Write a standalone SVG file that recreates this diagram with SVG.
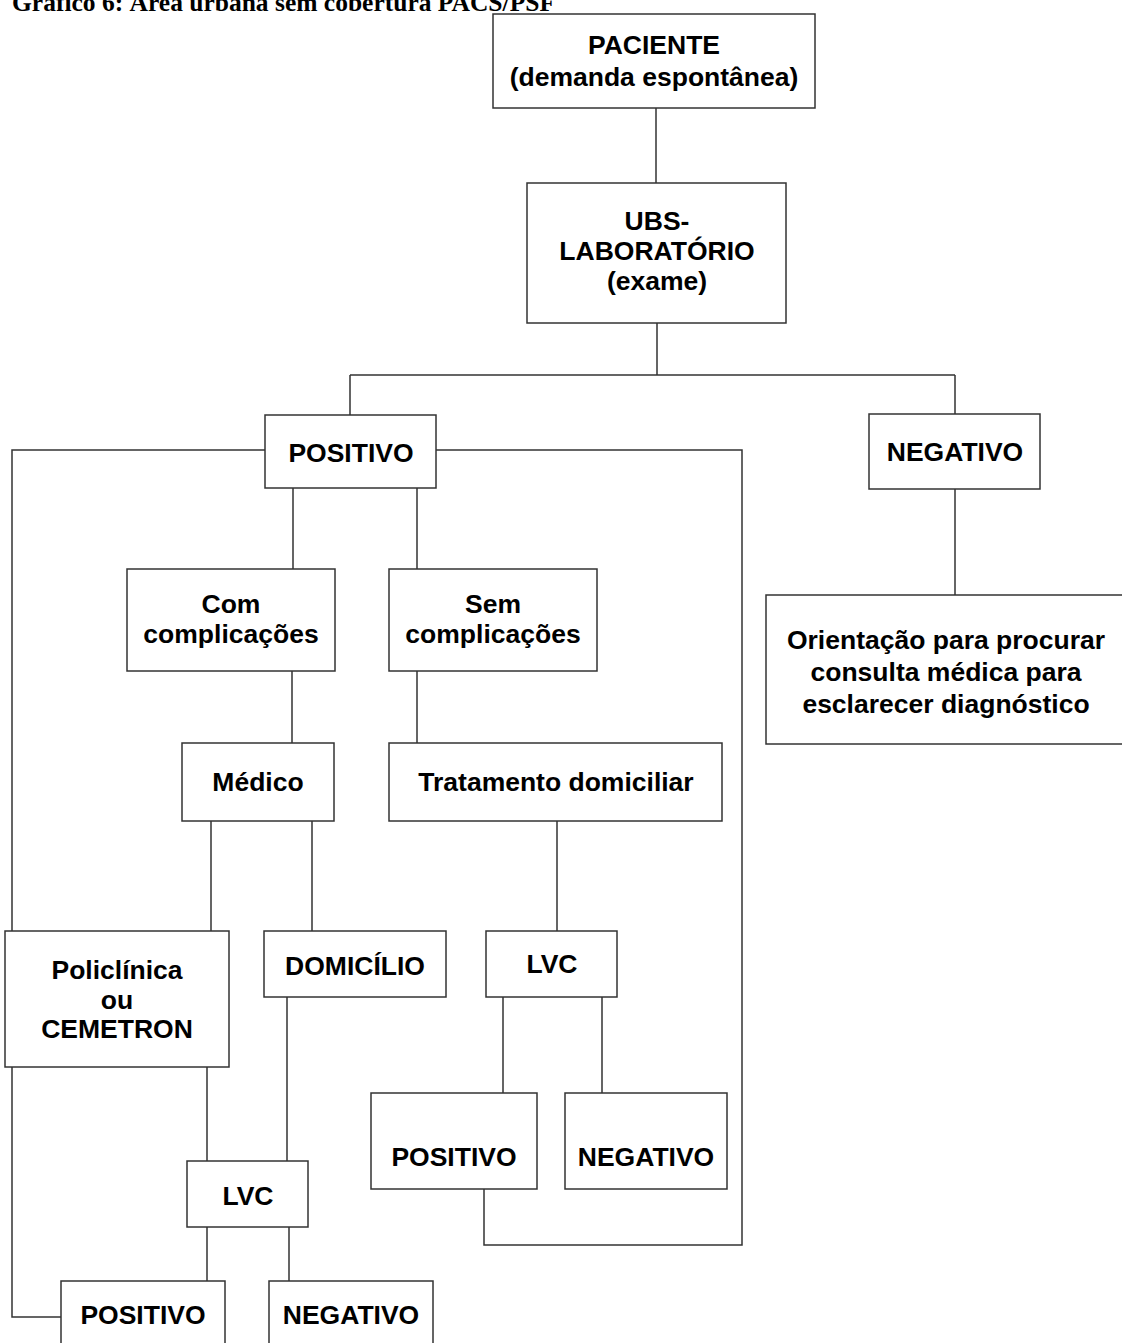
<svg xmlns="http://www.w3.org/2000/svg" width="1122" height="1343" viewBox="0 0 1122 1343">
<style>
.box{fill:#fff;stroke:#333;stroke-width:1.5}
.t{font-family:"Liberation Sans",Arial,sans-serif;font-weight:bold;font-size:26.5px;fill:#000;text-anchor:middle}
.c{fill:none;stroke:#333;stroke-width:1.5}
.title{font-family:"Liberation Serif","Times New Roman",serif;font-weight:bold;font-size:25.5px;fill:#000}
</style>
<rect width="1122" height="1343" fill="#fff"/>
<text class="title" x="12" y="11">Gráfico 6: Área urbana sem cobertura PACS/PSF</text>
<g id="connectors">
<path class="c" d="M656 108V183"/>
<path class="c" d="M657 323V375M350 375H955M350 375V415M955 375V414"/>
<path class="c" d="M955 489V595"/>
<path class="c" d="M265 450H12V1317H73"/>
<path class="c" d="M436 450H742V1245H484V1189"/>
<path class="c" d="M293 488V569M417 488V569"/>
<path class="c" d="M292 671V743M417 671V743"/>
<path class="c" d="M211 821V931M312 821V931M557 821V931"/>
<path class="c" d="M207 1067V1161M287 997V1161"/>
<path class="c" d="M207 1227V1281M289 1227V1281"/>
<path class="c" d="M503 997V1093M602 997V1093"/>
</g>
<g id="paciente"><rect class="box" x="493" y="14" width="322" height="94"/><text class="t" x="654" y="54">PACIENTE</text><text class="t" x="654" y="86">(demanda espontânea)</text></g>
<g id="ubs"><rect class="box" x="527" y="183" width="259" height="140"/><text class="t" x="657" y="230">UBS-</text><text class="t" x="657" y="260">LABORATÓRIO</text><text class="t" x="657" y="290">(exame)</text></g>
<g id="positivo1"><rect class="box" x="265" y="415" width="171" height="73"/><text class="t" x="351" y="462">POSITIVO</text></g>
<g id="negativo1"><rect class="box" x="869" y="414" width="171" height="75"/><text class="t" x="955" y="461">NEGATIVO</text></g>
<g id="orientacao"><rect class="box" x="766" y="595" width="362" height="149"/><text class="t" x="946" y="649">Orientação para procurar</text><text class="t" x="946" y="681">consulta médica para</text><text class="t" x="946" y="713">esclarecer diagnóstico</text></g>
<g id="com"><rect class="box" x="127" y="569" width="208" height="102"/><text class="t" x="231" y="613">Com</text><text class="t" x="231" y="643">complicações</text></g>
<g id="sem"><rect class="box" x="389" y="569" width="208" height="102"/><text class="t" x="493" y="613">Sem</text><text class="t" x="493" y="643">complicações</text></g>
<g id="medico"><rect class="box" x="182" y="743" width="152" height="78"/><text class="t" x="258" y="791">Médico</text></g>
<g id="tratamento"><rect class="box" x="389" y="743" width="333" height="78"/><text class="t" x="556" y="791">Tratamento domiciliar</text></g>
<g id="policlinica"><rect class="box" x="5" y="931" width="224" height="136"/><text class="t" x="117" y="979">Policlínica</text><text class="t" x="117" y="1009">ou</text><text class="t" x="117" y="1038">CEMETRON</text></g>
<g id="domicilio"><rect class="box" x="264" y="931" width="182" height="66"/><text class="t" x="355" y="975">DOMICÍLIO</text></g>
<g id="lvc1"><rect class="box" x="486" y="931" width="131" height="66"/><text class="t" x="552" y="973">LVC</text></g>
<g id="positivo2"><rect class="box" x="371" y="1093" width="166" height="96"/><text class="t" x="454" y="1166">POSITIVO</text></g>
<g id="negativo2"><rect class="box" x="565" y="1093" width="162" height="96"/><text class="t" x="646" y="1166">NEGATIVO</text></g>
<g id="lvc2"><rect class="box" x="187" y="1161" width="121" height="66"/><text class="t" x="248" y="1205">LVC</text></g>
<g id="positivo3"><rect class="box" x="61" y="1281" width="164" height="90"/><text class="t" x="143" y="1324">POSITIVO</text></g>
<g id="negativo3"><rect class="box" x="269" y="1281" width="164" height="90"/><text class="t" x="351" y="1324">NEGATIVO</text></g>
</svg>
